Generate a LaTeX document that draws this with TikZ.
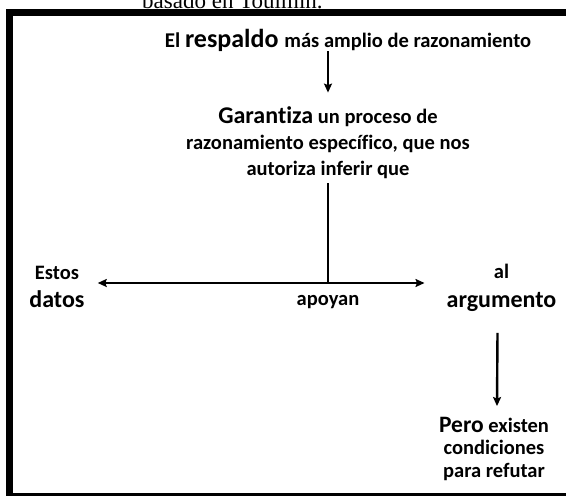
\documentclass[tikz,border=0pt]{standalone}
\usepackage{fontspec}
\setmainfont[Ligatures=CommonOff]{Carlito}
\newfontfamily\capfont{Liberation Serif}
\usetikzlibrary{arrows.meta}
\begin{document}
\begin{tikzpicture}[x=1pt,y=-1pt,
  txt/.style={inner sep=0pt, font=\bfseries},
  ln/.style={line width=2.8pt},
  arr/.style={line width=2.4pt, -{Stealth[length=9pt,width=8pt,inset=1.5pt]}}]
\useasboundingbox (0,0) rectangle (566,496);
\begin{scope}
\clip (0,0) rectangle (566,496);
\node[anchor=base west, inner sep=0pt] (cap) at (142,8) {\capfont\fontsize{23}{23}\selectfont basado en Toulmin.};
\draw[line width=7pt] (9.5,510) -- (9.5,12.5) -- (580,12.5);
\draw[line width=3pt] (6,494) -- (580,494);
\end{scope}

\node[txt, anchor=base] (resp) at (348,47) {\fontsize{21}{24}\selectfont El \fontsize{26}{28}\selectfont respaldo \fontsize{20.5}{24}\selectfont más amplio de razonamiento};

\node[txt, anchor=base] (gar) at (328,123) {\fontsize{20.5}{26}\selectfont\begin{tabular}[t]{@{}c@{}}{\fontsize{24}{26}\selectfont Garantiza} un proceso de\\ razonamiento específico, que nos\\ autoriza inferir que\end{tabular}};

\node[txt, anchor=base] (dat) at (57,279) {\fontsize{20.5}{28}\selectfont\begin{tabular}[t]{@{}c@{}}Estos\\ {\fontsize{24}{28}\selectfont datos}\end{tabular}};

\node[txt, anchor=base] (apo) at (328,305) {\fontsize{20.5}{24}\selectfont apoyan};

\node[txt, anchor=base] (arg) at (501.5,278) {\fontsize{20.5}{29}\selectfont\begin{tabular}[t]{@{}c@{}}al\\ {\fontsize{24}{29}\selectfont argumento}\end{tabular}};

\node[txt, anchor=base] (per) at (494,432) {\fontsize{20.5}{22.5}\selectfont\begin{tabular}[t]{@{}c@{}}{\fontsize{23.5}{22.5}\selectfont Pero} existen\\ condiciones\\ para refutar\end{tabular}};

\coordinate (j) at (328,283);

\draw[arr] (resp.south -| gar.north) -- ([yshift=12pt]gar.north);
\draw[ln] (gar) -- (j);
\draw[arr] (j) -- ([xshift=13pt]dat.east |- j);
\draw[arr] (j) -- ([xshift=-22pt]arg.west |- j);
\draw[arr] ([shift={(-4,17)}]arg.south) -- ([shift={(3,-10)}]per.north);
\end{tikzpicture}
\end{document}
